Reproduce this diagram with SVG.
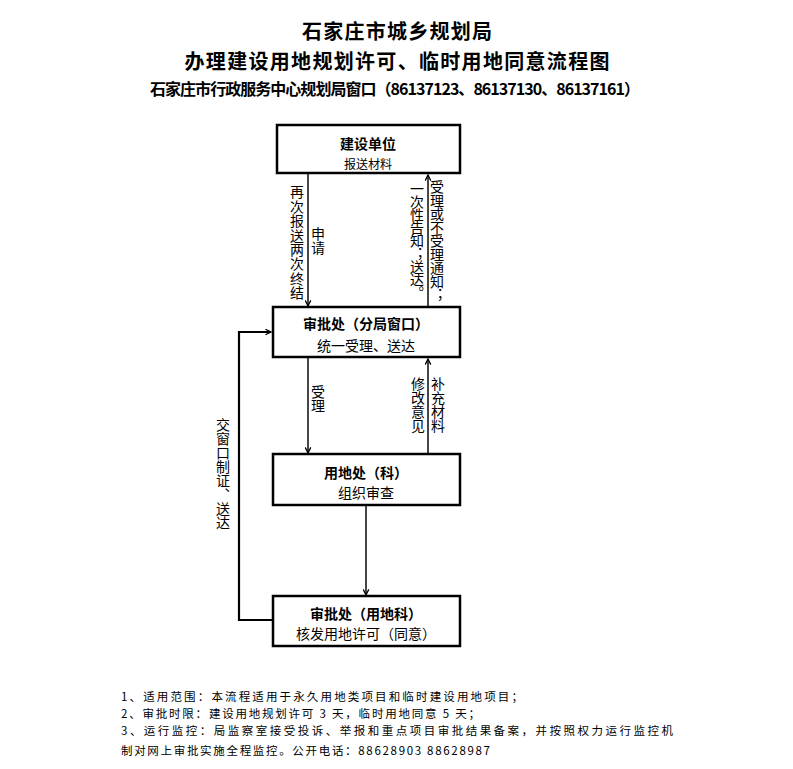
<svg xmlns="http://www.w3.org/2000/svg" width="793" height="769" viewBox="0 0 793 769">
<style>
text{font-family:"Noto Sans CJK SC","Noto Sans",sans-serif;fill:#000;dominant-baseline:central}
.t{font-weight:bold;text-anchor:middle}
.b{font-weight:bold;font-size:14px;text-anchor:middle}
.n{font-size:14px;text-anchor:middle}
.s{font-size:12px;text-anchor:middle}
.v{font-size:14px;writing-mode:vertical-rl;text-orientation:upright}
.note{font-size:11.5px}
.box{fill:#fff;stroke:#000;stroke-width:2.5}
.arr{stroke:#333;stroke-width:1.8;fill:none}
.loop{stroke:#000;stroke-width:2.2;fill:none}
</style>
<defs>
<marker id="ah" viewBox="0 0 10 10" refX="9" refY="5" markerWidth="7" markerHeight="7" markerUnits="userSpaceOnUse" orient="auto">
<path d="M1,1 L9,5 L1,9" fill="none" stroke="#000" stroke-width="1.8"/>
</marker>
</defs>
<rect width="793" height="769" fill="#fff"/>
<g id="title">
<text class="t" x="397" y="30" font-size="20" textLength="190" lengthAdjust="spacing">石家庄市城乡规划局</text>
<text class="t" x="397" y="60" font-size="20" textLength="425" lengthAdjust="spacing">办理建设用地规划许可、临时用地同意流程图</text>
<text class="t" x="395" y="88" font-size="16" textLength="490" lengthAdjust="spacing">石家庄市行政服务中心规划局窗口（86137123、86137130、86137161）</text>
</g>
<g id="connectors">
<line class="arr" x1="308" y1="174" x2="308" y2="306" marker-end="url(#ah)"/>
<line class="arr" x1="428" y1="307" x2="428" y2="175" marker-end="url(#ah)"/>
<line class="arr" x1="308" y1="358" x2="308" y2="453" marker-end="url(#ah)"/>
<line class="arr" x1="428" y1="454" x2="428" y2="359" marker-end="url(#ah)"/>
<line class="arr" x1="366" y1="506" x2="366" y2="595" marker-end="url(#ah)"/>
<polyline class="loop" points="273,620 239,620 239,332 271,332" marker-end="url(#ah)"/>
<text class="v" x="297" y="185" textLength="115" lengthAdjust="spacing">再次报送两次终结</text>
<text class="v" x="318" y="227">申请</text>
<text class="v" x="417" y="182" textLength="118" lengthAdjust="spacing">一次性告知；送达。</text>
<text class="v" x="437" y="180" textLength="122" lengthAdjust="spacing">受理或不受理通知；</text>
<text class="v" x="318" y="385">受理</text>
<text class="v" x="418" y="377" textLength="56" lengthAdjust="spacing">修改意见</text>
<text class="v" x="438" y="377" textLength="56" lengthAdjust="spacing">补充材料</text>
<text class="v" x="223" y="418" textLength="112" lengthAdjust="spacing">交窗口制证、送达</text>
</g>
<g id="node-jsdw">
<rect class="box" x="277" y="125" width="183" height="48"/>
<text class="b" x="368" y="143">建设单位</text>
<text class="s" x="368" y="163">报送材料</text>
</g>
<g id="node-spc-fj">
<rect class="box" x="273" y="307" width="187" height="50"/>
<text class="b" x="366" y="323">审批处（分局窗口）</text>
<text class="n" x="366" y="345">统一受理、送达</text>
</g>
<g id="node-ydc">
<rect class="box" x="273" y="454" width="187" height="51"/>
<text class="b" x="366" y="472">用地处（科）</text>
<text class="n" x="366" y="492">组织审查</text>
</g>
<g id="node-spc-ydk">
<rect class="box" x="273" y="596" width="187" height="50"/>
<text class="b" x="366" y="613">审批处（用地科）</text>
<text class="n" x="366" y="633">核发用地许可（同意）</text>
</g>
<g id="notes">
<text class="note" x="121" y="696" textLength="402" lengthAdjust="spacing">1、适用范围：本流程适用于永久用地类项目和临时建设用地项目；</text>
<text class="note" x="121" y="713" textLength="359" lengthAdjust="spacing">2、审批时限：建设用地规划许可 3 天，临时用地同意 5 天；</text>
<text class="note" x="121" y="730" textLength="552" lengthAdjust="spacing">3、运行监控：局监察室接受投诉、举报和重点项目审批结果备案，并按照权力运行监控机</text>
<text class="note" x="121" y="750" textLength="369" lengthAdjust="spacing">制对网上审批实施全程监控。公开电话：88628903 88628987</text>
</g>
</svg>
